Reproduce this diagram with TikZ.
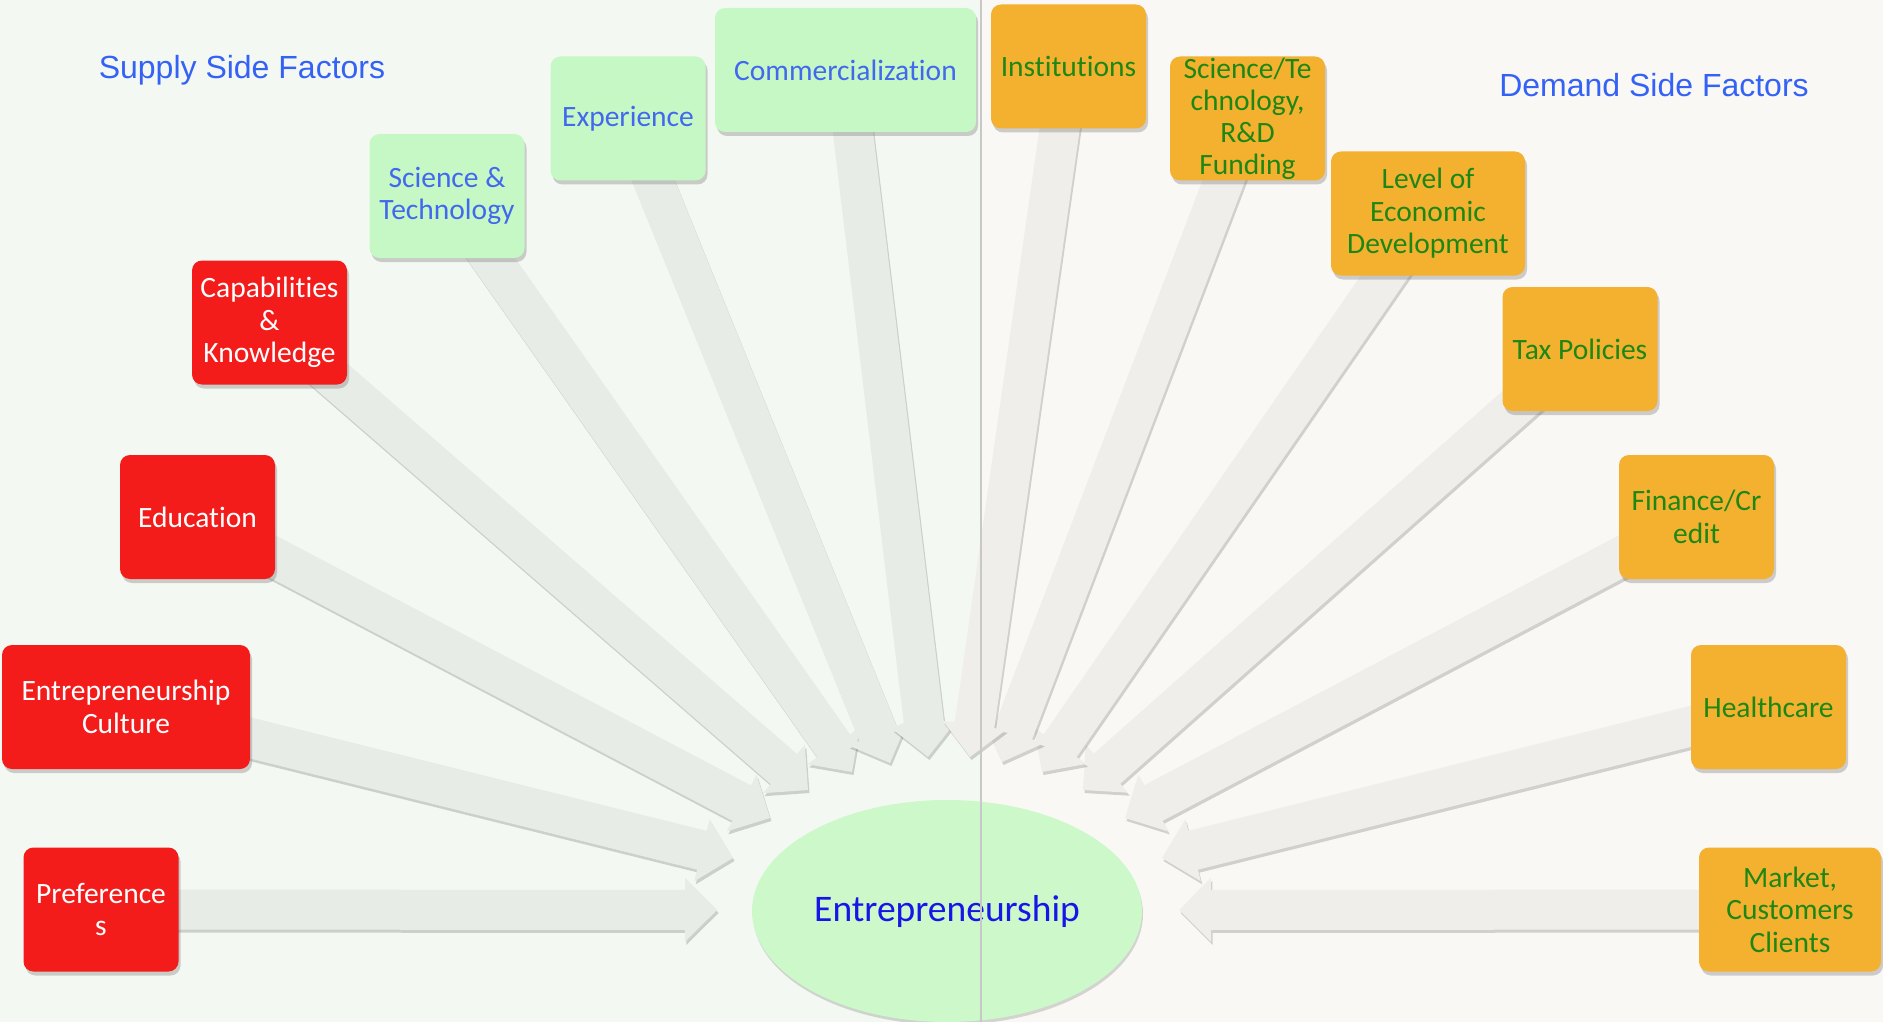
\documentclass[tikz,border=0pt]{standalone}
\usepackage{fontspec}
\setmainfont{Carlito}[Ligatures=NoCommon]
\newfontfamily\arialfont{Liberation Sans}
\usetikzlibrary{calc,shadows,shapes.geometric}

\definecolor{supbg}{RGB}{244,248,242}
\definecolor{dembg}{RGB}{249,248,245}
\definecolor{suparrow}{RGB}{232,236,230}
\definecolor{demarrow}{RGB}{239,238,234}
\definecolor{redbox}{RGB}{244,28,26}
\definecolor{orangebox}{RGB}{244,177,48}
\definecolor{greenbox}{RGB}{198,248,198}
\definecolor{ellfill}{RGB}{204,248,202}
\definecolor{titleblue}{RGB}{52,98,245}
\definecolor{softblue}{RGB}{66,104,238}
\definecolor{deepblue}{RGB}{22,22,230}
\definecolor{leafgreen}{RGB}{30,135,20}
\definecolor{divider}{RGB}{200,200,200}

\pgfdeclarelayer{bg}
\pgfdeclarelayer{background}
\pgfsetlayers{bg,background,main}

\newcommand{\boxfont}{\fontsize{29.5}{32.5}\selectfont}
% block arrow from the centre of a box to a tip
\newcommand{\fatarrow}[3]{%
  \coordinate (hb) at ($(#3)!32pt!(#2.center)$);
  \fill[#1, drop shadow={shadow xshift=1.5pt, shadow yshift=-3pt, opacity=0.16, fill=black}]
    ($(#2.center)!20pt!90:(#3)$) -- ($(hb)!20pt!90:(#3)$) -- ($(hb)!32pt!90:(#3)$) -- (#3)
    -- ($(hb)!32pt!-90:(#3)$) -- ($(hb)!20pt!-90:(#3)$) -- ($(#2.center)!20pt!-90:(#3)$) -- cycle;
}

\tikzset{
  factor/.style={rounded corners=10pt, minimum width=155pt, minimum height=124pt, inner sep=0pt,
    align=center, font=\boxfont, drop shadow={shadow xshift=2pt, shadow yshift=-4pt, opacity=0.3, fill=black!60}},
  supply/.style={factor, fill=redbox, text=white},
  skill/.style={factor, fill=greenbox, text=softblue},
  demand/.style={factor, fill=orangebox, text=leafgreen},
  sidetitle/.style={font=\arialfont\fontsize{32}{38}\selectfont, text=titleblue},
}

\begin{document}
\begin{tikzpicture}[x=1pt, y=-1pt]
	\begin{pgfonlayer}{bg}
		\fill[supbg] (0,0) rectangle (981,1022);
		\fill[dembg] (981,0) rectangle (1883,1022);
	\end{pgfonlayer}
	\useasboundingbox (0,0) rectangle (1883,1022);

	\node[sidetitle] (suptitle) at (242,70) {Supply Side Factors};
	\node[sidetitle] (demtitle) at (1654,85) {Demand Side Factors};

	\node[ellipse, minimum width=390pt, minimum height=222pt, inner sep=0pt, fill=ellfill,
		text=deepblue, font=\fontsize{37.5}{42}\selectfont,
		drop shadow={shadow xshift=1pt, shadow yshift=-3pt, opacity=0.15, fill=black}] (entre) at (947,911) {Entrepreneurship};

	% supply side
	\node[supply] (pref) at (101,909.5) {Preference\\s};
	\node[supply, minimum width=248pt] (cult) at (126,707) {Entrepreneurship\\Culture};
	\node[supply] (edu) at (197.5,517) {Education};
	\node[supply] (capab) at (269.5,322.5) {Capabilities\\\&\\Knowledge};
	\node[skill] (scitech) at (447,196) {Science \&\\Technology};
	\node[skill] (exp) at (628,118.5) {Experience};
	\node[skill, minimum width=261pt] (comm) at (845.5,70) {Commercialization};

	% demand side
	\node[demand] (inst) at (1068.5,66.5) {Institutions};
	\node[demand, font=\fontsize{29.5}{32}\selectfont] (scird) at (1247.5,118.5) {Science/Te\\chnology,\\R\&D\\Funding};
	\node[demand, minimum width=194pt] (level) at (1428,213.5) {Level of\\Economic\\Development};
	\node[demand] (tax) at (1580,349) {Tax Policies};
	\node[demand] (fin) at (1696.5,517) {Finance/Cr\\edit};
	\node[demand] (health) at (1768.5,707) {Healthcare};
	\node[demand, minimum width=182pt] (market) at (1790,909.5) {Market,\\Customers\\Clients};

	\coordinate (tpref) at (717,910);
	\coordinate (tcult) at (733,858);
	\coordinate (tedu) at (770,818);
	\coordinate (tcapab) at (808,790);
	\coordinate (tscitech) at (852,772);
	\coordinate (texp) at (890,763);
	\coordinate (tcomm) at (928,757);
	\coordinate (tinst) at (970,757);
	\coordinate (tscird) at (1002,762);
	\coordinate (tlevel) at (1042,772);
	\coordinate (ttax) at (1083,790);
	\coordinate (tfin) at (1125,818);
	\coordinate (thealth) at (1162,858);
	\coordinate (tmarket) at (1179,910);

	\begin{pgfonlayer}{background}
		\fatarrow{suparrow}{pref}{tpref}
		\fatarrow{suparrow}{cult}{tcult}
		\fatarrow{suparrow}{edu}{tedu}
		\fatarrow{suparrow}{capab}{tcapab}
		\fatarrow{suparrow}{scitech}{tscitech}
		\fatarrow{suparrow}{exp}{texp}
		\fatarrow{suparrow}{comm}{tcomm}
		\fatarrow{demarrow}{market}{tmarket}
		\fatarrow{demarrow}{health}{thealth}
		\fatarrow{demarrow}{fin}{tfin}
		\fatarrow{demarrow}{tax}{ttax}
		\fatarrow{demarrow}{level}{tlevel}
		\fatarrow{demarrow}{scird}{tscird}
		\fatarrow{demarrow}{inst}{tinst}
	\end{pgfonlayer}

	\draw[divider, line width=2pt] (981,0) -- (981,1022);
\end{tikzpicture}
\end{document}
